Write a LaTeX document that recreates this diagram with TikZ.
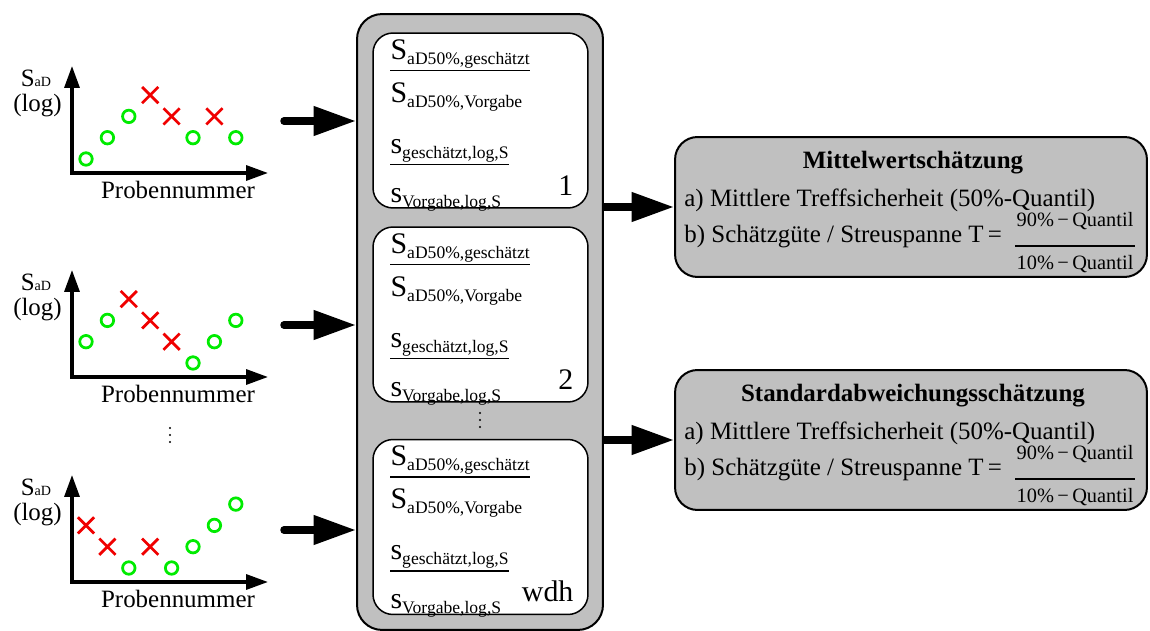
\documentclass[tikz,border=0pt]{standalone}
\usepackage{fontspec}
\setmainfont{Liberation Serif}
\usetikzlibrary{arrows.meta,positioning,shapes.misc,calc}
\definecolor{boxgray}{RGB}{192,192,192}
\definecolor{okgreen}{RGB}{0,235,0}
\definecolor{failred}{RGB}{240,0,0}
\newcommand{\lowsub}[1]{\raisebox{-0.1cm}{\fontsize{10pt}{11pt}\selectfont #1}}

\begin{document}
\begin{tikzpicture}[
x=0.02cm, y=-0.02cm,
txt/.style={
  inner sep=0pt,
  font=\fontsize{14.2pt}{17pt}\selectfont
  },
bigS/.style={
  inner xsep=0pt,
  inner ysep=0.04cm,
  font=\fontsize{17pt}{20pt}\selectfont
  },
frac/.style={
  inner sep=0pt,
  font=\fontsize{11.6pt}{13pt}\selectfont
  },
dot/.style={
  circle,
  fill,
  minimum size=0.045cm,
  inner sep=0pt
  },
mko/.style={
  circle,
  draw=okgreen,
  line width=0.055cm,
  minimum size=0.25cm,
  inner sep=0pt
  },
mkx/.style={
  cross out,
  draw=failred,
  line width=0.055cm,
  minimum size=0.27cm,
  inner sep=0pt
  },
axis/.style={
  line width=0.066cm,
  {Triangle[length=0.44cm,width=0.3cm]}-{Triangle[length=0.44cm,width=0.3cm]}
  },
fat/.style={
  line width=0.15cm,
  -{Triangle[length=0.85cm,width=0.56cm]}
  },
frame/.style={
  draw,
  fill=boxgray,
  line width=0.04cm,
  rounded corners=0.5cm
  },
ratio/.style={
  draw,
  fill=white,
  line width=0.03cm,
  rounded corners=0.4cm,
  minimum width=4.3cm,
  minimum height=3.5cm
  },
result/.style={
  frame,
  rounded corners=0.45cm,
  minimum width=9.44cm,
  minimum height=2.8cm
  },
bar/.style={
  line width=0.03cm
  }
]

\useasboundingbox (0,0) rectangle (1150,631);

%The sample plots on the left
\foreach \p/\oy/\pts in {1/173/{o/0,o/1,o/2,x/3,x/2,o/1,x/2,o/1},
                         2/377/{o/1,o/2,x/3,x/2,x/1,o/0,o/1,o/2},
                         3/582/{x/2,x/1,o/0,x/1,o/0,o/1,o/2,o/3}}{
  \coordinate (o\p) at (72,\oy);
  \coordinate (xe\p) at (268,\oy);
  \coordinate (ye\p) at (72,\oy-107);
  \draw[axis] (ye\p) -- (o\p) -- (xe\p);
  \node[txt] (sad\p) at (36,\oy-95)
    {S{\fontsize{8pt}{9pt}\selectfont aD}};
  \node[txt] (log\p) at (37.5,\oy-67)
    {(log)};
  \node[txt] (pn\p) at (178,\oy+17)
    {Probennummer};
  \foreach \m/\l [count=\k from 0] in \pts
    \node[mk\m] (p\p-\k) at (86+21.4*\k,\oy-14-21.3*\l) {};
  \coordinate (src\p) at (284,\oy-52);
}
\foreach \j in {0,1,2}
  \node[dot] (more\j) at (170,428+7*\j) {};

%The middle frame
\node[frame, minimum width=4.92cm, minimum height=12.32cm] (mid) at (480,322) {};

\foreach \i/\cy/\nr in {1/120.5/1,2/314.5/2,3/527/wdh}{
  \node[ratio] (r\i) at (480.5,\cy) {};
  \node[bigS, anchor=base west] (gn\i) at ($(r\i.north west)+(18,27)$)
    {S\lowsub{aD50\%,geschätzt}};
  \node[bigS, anchor=base west] (gd\i) at ($(gn\i.base west)+(0,43)$)
    {S\lowsub{aD50\%,Vorgabe}};
  \node[bigS, anchor=base west] (sn\i) at ($(gn\i.base west)+(0,94)$)
    {s\lowsub{geschätzt,log,S}};
  \node[bigS, anchor=base west] (sd\i) at ($(gn\i.base west)+(0,143)$)
    {s\lowsub{Vorgabe,log,S}};
  \draw[bar] (gn\i.south west) -- (gn\i.south east);
  \draw[bar] (sn\i.south west) -- (sn\i.south east);
  \node[bigS, anchor=base east] (nr\i) at ($(r\i.north east)+(-15,163)$)
    {\nr};
}
\foreach \j in {0,1,2}
  \node[dot] (gap\j) at (480,413+7*\j) {};

%The result boxes on the right
\foreach \r/\cy/\ttl in {A/207/Mittelwertschätzung,B/440/Standardabweichungsschätzung}{
  \node[result] (res\r) at (911,\cy) {};
  \node[txt, anchor=base] (tit\r) at ($(res\r.north)+(2,32)$)
    {\textbf{\ttl}};
  \node[txt, anchor=base west] (qa\r) at ($(res\r.north west)+(10,70)$)
    {a) Mittlere Treffsicherheit (50\%-Quantil)};
  \node[txt, anchor=base west] (qb\r) at ($(res\r.north west)+(10,106)$)
    {b) Schätzgüte / Streuspanne T\,=};
  \node[frac, anchor=base west] (num\r) at ($(qb\r.base east)+(14,-16)$)
    {90\%\,−\,Quantil};
  \node[frac, anchor=base west] (den\r) at ($(num\r.base west)+(0,43)$)
    {10\%\,−\,Quantil};
  \draw[bar] ($(num\r.base west)+(-1,20)$) -- ($(num\r.base east)+(1,20)$);
}

%Arrows
\foreach \p in {1,2,3}
  \draw[fat, line cap=round] (src\p) -- (src\p -| mid.west);
\draw[fat] (mid.east |- resA.west) -- (resA.west);
\draw[fat] (mid.east |- resB.west) -- (resB.west);

\end{tikzpicture}
\end{document}
